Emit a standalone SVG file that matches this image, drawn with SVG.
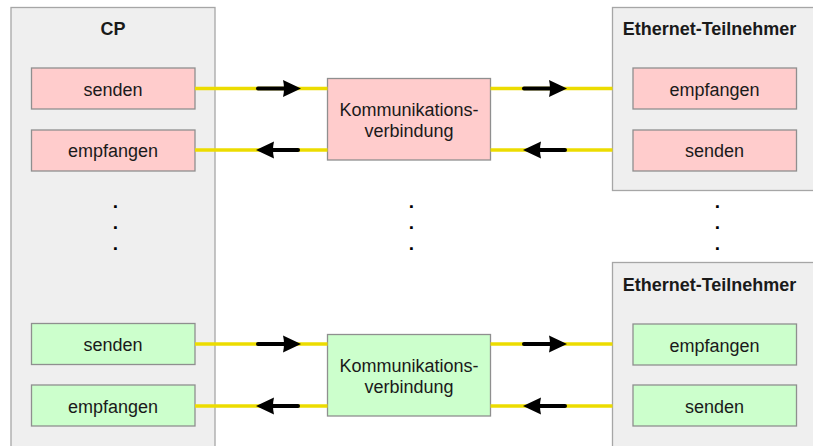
<svg xmlns="http://www.w3.org/2000/svg" width="813" height="446" viewBox="0 0 813 446">
<style>
  text { font-family: "Liberation Sans", Arial, sans-serif; font-size: 18px; fill: #1a1a1a; text-anchor: middle; }
  .title { font-weight: bold; }
  .outer { fill: #efefef; stroke: #a6a6a6; stroke-width: 1.3; }
  .pink { fill: #ffcccc; stroke: #8f8f8f; stroke-width: 1.3; }
  .green { fill: #ccffcc; stroke: #8f8f8f; stroke-width: 1.3; }
  .wire { stroke: #ecdc00; stroke-width: 3.5; fill: none; }
  .arrow { stroke: #000; stroke-width: 4; stroke-linecap: round; fill: none; marker-end: url(#head); }
  .dot { font-size: 19px; font-weight: bold; fill: #000; }
</style>
<defs>
  <marker id="head" markerUnits="userSpaceOnUse" markerWidth="20" markerHeight="20" refX="4" refY="9" orient="auto">
    <path d="M0,0.5 L18,9 L0,17.5 Q2,9 0,0.5 z" fill="#000"/>
  </marker>
</defs>
<rect width="813" height="446" fill="#ffffff"/>

<g id="cp">
  <rect class="outer" x="11" y="7.5" width="204" height="450"/>
  <text class="title" x="113" y="35">CP</text>
</g>
<g id="eth1">
  <rect class="outer" x="612.5" y="7.5" width="210" height="183"/>
  <text class="title" x="709.5" y="35">Ethernet-Teilnehmer</text>
</g>
<g id="eth2">
  <rect class="outer" x="612.5" y="262.5" width="210" height="200"/>
  <text class="title" x="709.5" y="290.5">Ethernet-Teilnehmer</text>
</g>

<g id="cp-senden-1">
  <rect class="pink" x="31.5" y="68" width="163.5" height="41"/>
  <text x="113" y="95.5">senden</text>
</g>
<g id="cp-empfangen-1">
  <rect class="pink" x="31.5" y="130" width="163.5" height="41"/>
  <text x="113" y="157">empfangen</text>
</g>
<g id="komm-1">
  <rect class="pink" x="327.5" y="78.5" width="163" height="81.5"/>
  <text x="409" y="116">Kommunikations-</text>
  <text x="409" y="137">verbindung</text>
</g>
<g id="eth1-empfangen">
  <rect class="pink" x="633" y="68" width="163.5" height="41"/>
  <text x="714.5" y="95.5">empfangen</text>
</g>
<g id="eth1-senden">
  <rect class="pink" x="633" y="130" width="163.5" height="41"/>
  <text x="714.5" y="157">senden</text>
</g>

<g id="cp-senden-2">
  <rect class="green" x="31.5" y="323.5" width="163.5" height="41"/>
  <text x="113" y="351">senden</text>
</g>
<g id="cp-empfangen-2">
  <rect class="green" x="31.5" y="385" width="163.5" height="41"/>
  <text x="113" y="412.5">empfangen</text>
</g>
<g id="komm-2">
  <rect class="green" x="327.5" y="334.5" width="163" height="81.5"/>
  <text x="409" y="372">Kommunikations-</text>
  <text x="409" y="393">verbindung</text>
</g>
<g id="eth2-empfangen">
  <rect class="green" x="633" y="324" width="163.5" height="41"/>
  <text x="714.5" y="351.5">empfangen</text>
</g>
<g id="eth2-senden">
  <rect class="green" x="633" y="385" width="163.5" height="41"/>
  <text x="714.5" y="412.5">senden</text>
</g>

<g id="dots">
  <text class="dot" x="115.5" y="207.8">.</text>
  <text class="dot" x="115.5" y="229.2">.</text>
  <text class="dot" x="115.5" y="249.8">.</text>
  <text class="dot" x="411.5" y="207.8">.</text>
  <text class="dot" x="411.5" y="229.2">.</text>
  <text class="dot" x="411.5" y="249.8">.</text>
  <text class="dot" x="717.5" y="207.8">.</text>
  <text class="dot" x="717.5" y="229.2">.</text>
  <text class="dot" x="717.5" y="249.8">.</text>
</g>

<g id="connectors">
  <line class="wire" x1="195" y1="88.5" x2="327.5" y2="88.5"/>
  <line class="wire" x1="490.5" y1="88.5" x2="612.5" y2="88.5"/>
  <line class="wire" x1="195" y1="150" x2="327.5" y2="150"/>
  <line class="wire" x1="490.5" y1="150" x2="612.5" y2="150"/>
  <line class="wire" x1="195" y1="344" x2="327.5" y2="344"/>
  <line class="wire" x1="490.5" y1="344" x2="612.5" y2="344"/>
  <line class="wire" x1="195" y1="406" x2="327.5" y2="406"/>
  <line class="wire" x1="490.5" y1="406" x2="612.5" y2="406"/>

  <line class="arrow" x1="258" y1="88.5" x2="287" y2="88.5"/>
  <line class="arrow" x1="524" y1="88.5" x2="553" y2="88.5"/>
  <line class="arrow" x1="298" y1="150" x2="270" y2="150"/>
  <line class="arrow" x1="565" y1="150" x2="537" y2="150"/>
  <line class="arrow" x1="258" y1="344" x2="287" y2="344"/>
  <line class="arrow" x1="524" y1="344" x2="553" y2="344"/>
  <line class="arrow" x1="298" y1="406" x2="270" y2="406"/>
  <line class="arrow" x1="565" y1="406" x2="537" y2="406"/>
</g>
</svg>
